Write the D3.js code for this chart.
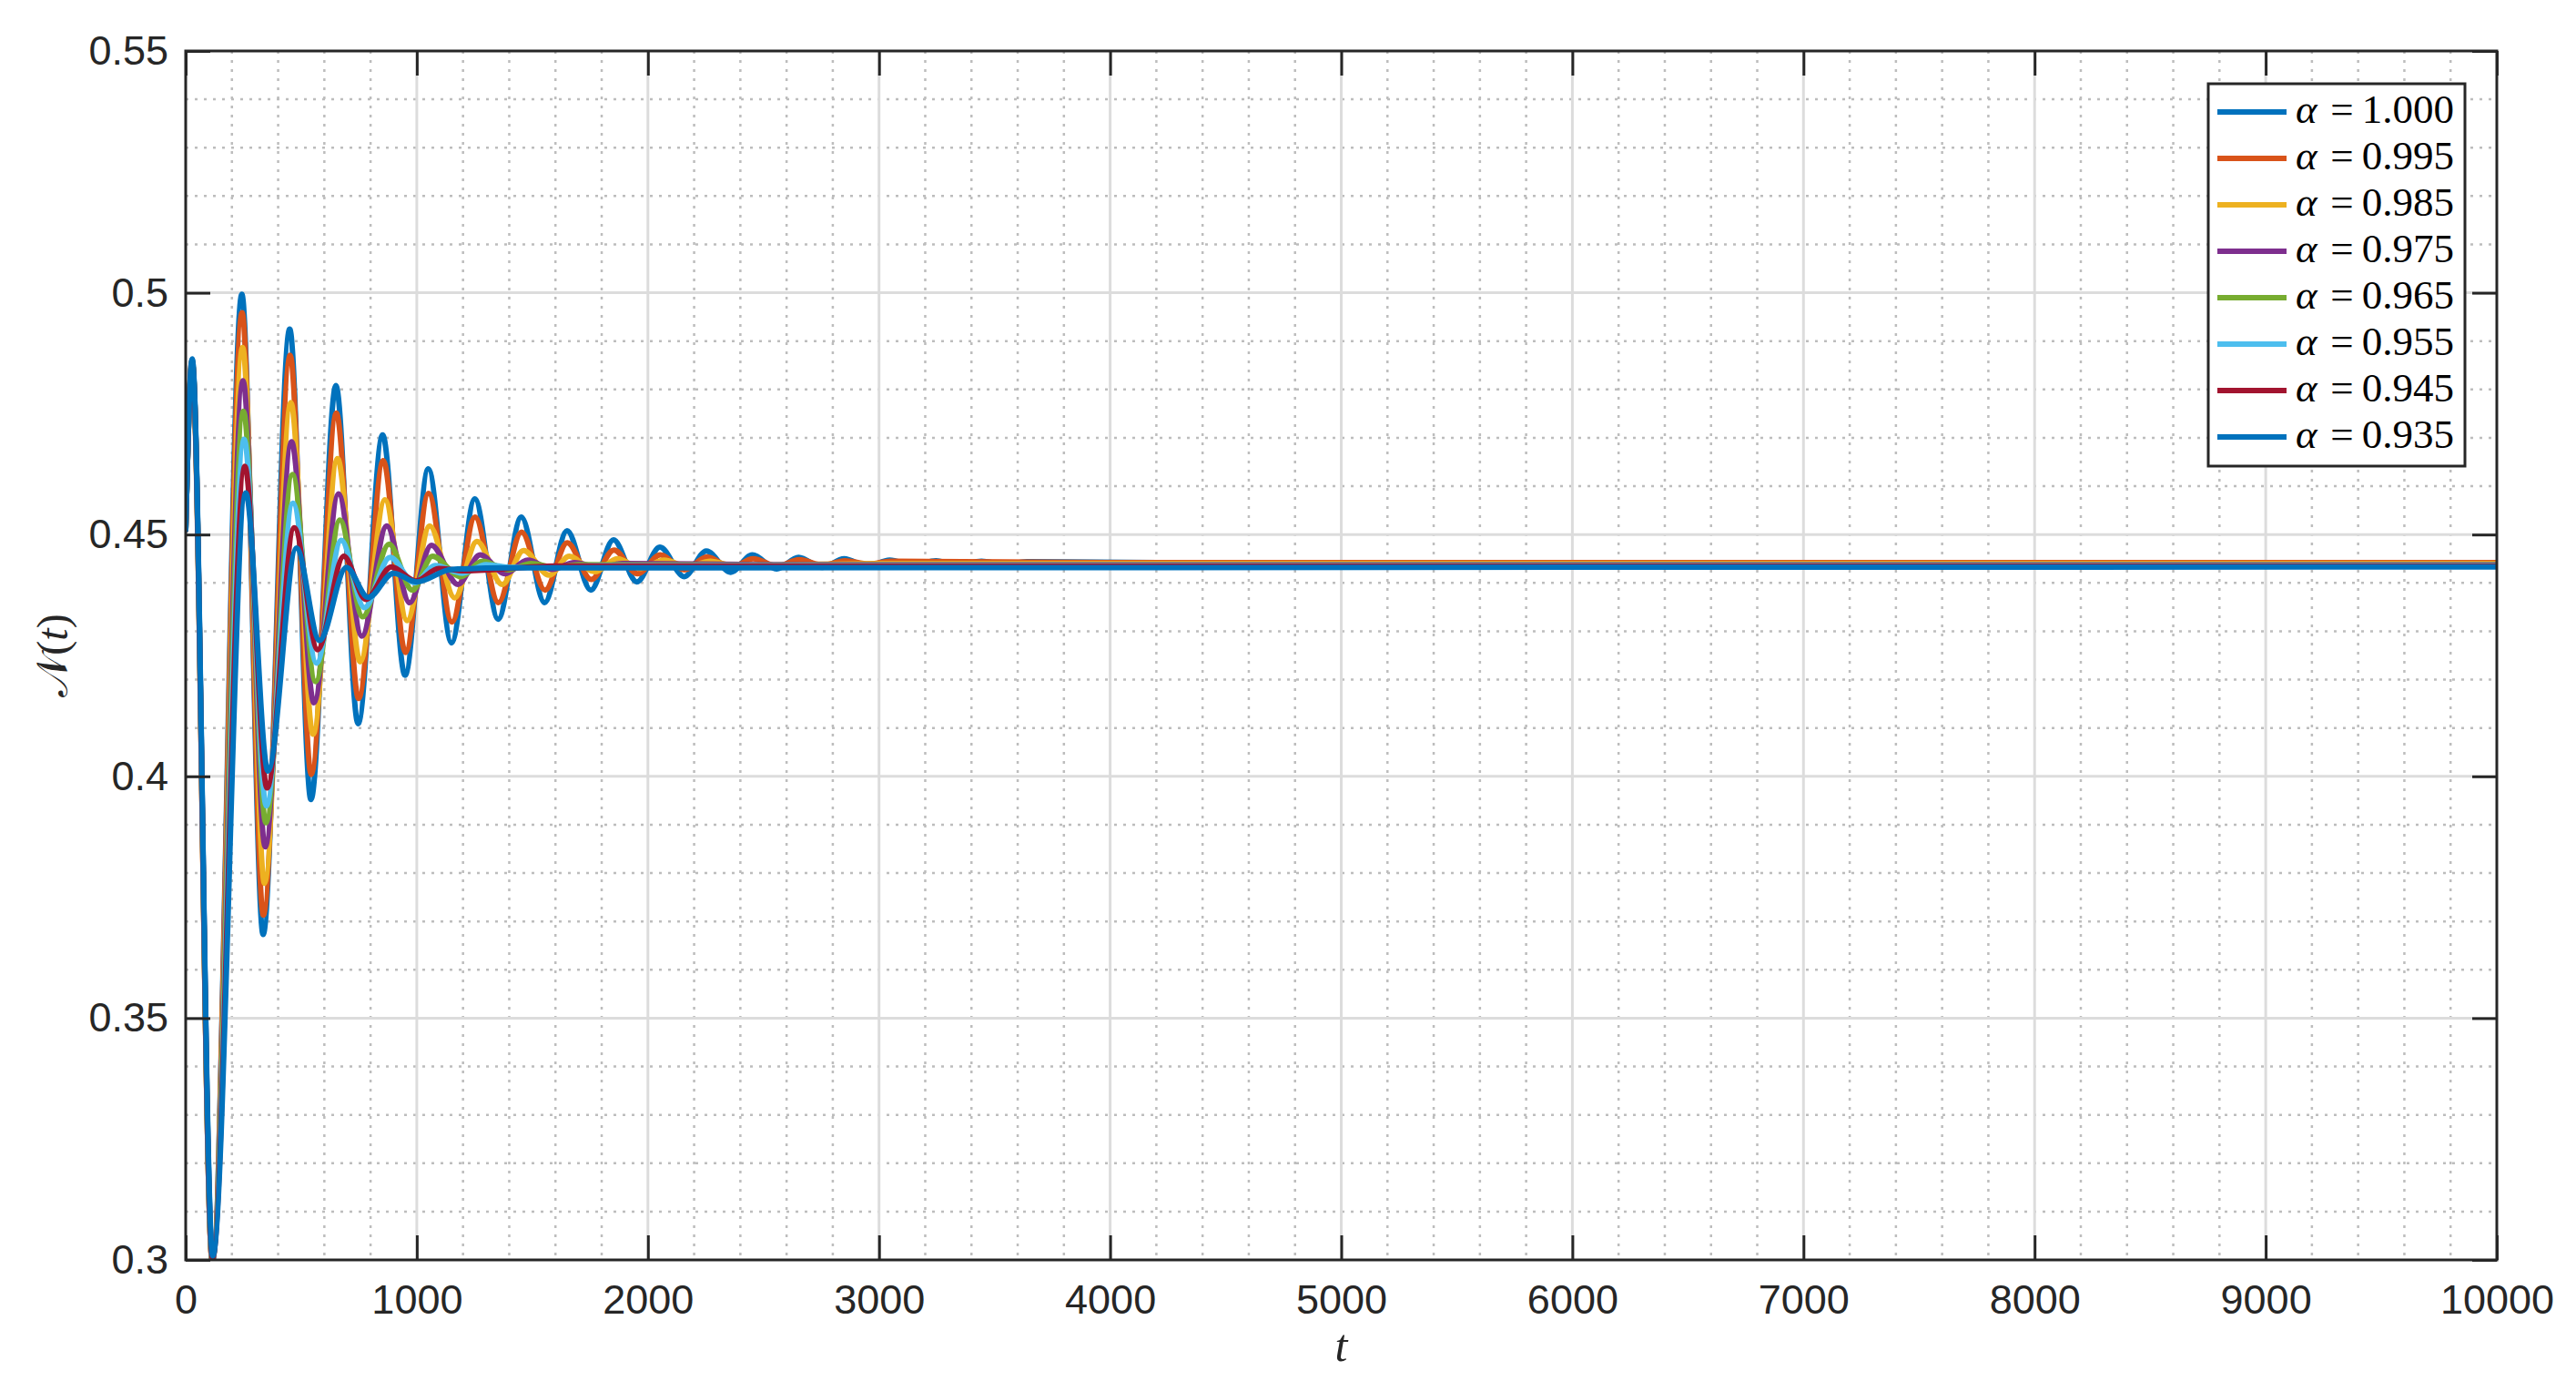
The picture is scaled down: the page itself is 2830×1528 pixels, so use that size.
<!DOCTYPE html>
<html>
<head>
<meta charset="utf-8">
<script src="https://cdn.jsdelivr.net/npm/d3@7"></script>
<style>
  html, body { margin: 0; padding: 0; background: #ffffff; }
  svg { display: block; }
</style>
</head>
<body>
<svg id="chart" width="2830" height="1528"></svg>
<script>
// ---------------- DATA ----------------
const xTickValues = [0, 1000, 2000, 3000, 4000, 5000, 6000, 7000, 8000, 9000, 10000];
const xTickLabels = ["0", "1000", "2000", "3000", "4000", "5000", "6000", "7000", "8000", "9000", "10000"];
const yTickValues = [0.3, 0.35, 0.4, 0.45, 0.5, 0.55];
const yTickLabels = ["0.3", "0.35", "0.4", "0.45", "0.5", "0.55"];
const alphaLabels = ["1.000", "0.995", "0.985", "0.975", "0.965", "0.955", "0.945", "0.935"];

// extrema of each curve: time t and value N(t)
const tA1000 = [0, 28, 116, 243, 335, 450, 542, 650, 746, 852, 949, 1050, 1150, 1251, 1352, 1452, 1553, 1650, 1753, 1851, 1952, 2052, 2157, 2253, 2358, 2452, 2557, 2652, 2754, 2849, 2950, 3046, 3148, 3246, 3345, 3443, 3542, 3640, 4500, 10000];
const nA1000 = [0.451, 0.4862, 0.3012, 0.4997, 0.3673, 0.4925, 0.3952, 0.4808, 0.4109, 0.4706, 0.4209, 0.4636, 0.4276, 0.4574, 0.4325, 0.4536, 0.4359, 0.4508, 0.4385, 0.4489, 0.4402, 0.4474, 0.4413, 0.4466, 0.4422, 0.4458, 0.4429, 0.4453, 0.4432, 0.4450, 0.4434, 0.4447, 0.4436, 0.4446, 0.4437, 0.4445, 0.4438, 0.4444, 0.4441, 0.4441];

const tA995 = [0, 27, 115, 244, 336, 452, 543, 652, 748, 855, 951, 1051, 1152, 1252, 1353, 1453, 1555, 1651, 1755, 1853, 1955, 2054, 2158, 2256, 2360, 2455, 2560, 2655, 2757, 2852, 2955, 3050, 4000, 10000];
const nA995 = [0.451, 0.4860, 0.2998, 0.4959, 0.3713, 0.4871, 0.4004, 0.4751, 0.4161, 0.4653, 0.4256, 0.4585, 0.4319, 0.4536, 0.4359, 0.4505, 0.4385, 0.4483, 0.4407, 0.4468, 0.4419, 0.4458, 0.4427, 0.4454, 0.4432, 0.4450, 0.4435, 0.4448, 0.4437, 0.4446, 0.4439, 0.4445, 0.4442, 0.4442];

const tA985 = [0, 28, 115, 246, 341, 455, 551, 657, 755, 862, 958, 1056, 1164, 1260, 1370, 1462, 1572, 1660, 1770, 1868, 1970, 2070, 2172, 2270, 2372, 3000, 10000];
const nA985 = [0.451, 0.4858, 0.2995, 0.4887, 0.3779, 0.4773, 0.4087, 0.4657, 0.4237, 0.4572, 0.4322, 0.4518, 0.4369, 0.4486, 0.4397, 0.4467, 0.4416, 0.4455, 0.4423, 0.4450, 0.4430, 0.4447, 0.4434, 0.4445, 0.4436, 0.4440, 0.4440];

const tA975 = [0, 28, 115, 248, 344, 458, 555, 661, 762, 870, 969, 1063, 1178, 1274, 1382, 1480, 1585, 1682, 1790, 1890, 2500, 10000];
const nA975 = [0.451, 0.4856, 0.2997, 0.4818, 0.3854, 0.4692, 0.4152, 0.4584, 0.4290, 0.4518, 0.4359, 0.4478, 0.4397, 0.4458, 0.4419, 0.4447, 0.4428, 0.4442, 0.4432, 0.4440, 0.4438, 0.4438];

const tA965 = [0, 28, 115, 250, 347, 462, 562, 667, 766, 880, 981, 1068, 1190, 1285, 1395, 1495, 1600, 1700, 2300, 10000];
const nA965 = [0.451, 0.4856, 0.2999, 0.4755, 0.3904, 0.4624, 0.4196, 0.4530, 0.4330, 0.4480, 0.4385, 0.4455, 0.4413, 0.4445, 0.4427, 0.4440, 0.4432, 0.4438, 0.4437, 0.4437];

const tA955 = [0, 28, 116, 253, 349, 464, 566, 673, 773, 884, 990, 1080, 1198, 1300, 1410, 1800, 10000];
const nA955 = [0.451, 0.4856, 0.3001, 0.4697, 0.3939, 0.4565, 0.4234, 0.4488, 0.4349, 0.4453, 0.4400, 0.4436, 0.4420, 0.4438, 0.4432, 0.4436, 0.4436];

const tA945 = [0, 28, 116, 256, 352, 470, 571, 684, 779, 890, 996, 1095, 1210, 1600, 10000];
const nA945 = [0.451, 0.4857, 0.3003, 0.4641, 0.3976, 0.4514, 0.4262, 0.4455, 0.4366, 0.4433, 0.4404, 0.4430, 0.4425, 0.4435, 0.4435];

const tA935 = [0, 28, 117, 260, 356, 479, 579, 695, 790, 899, 998, 1150, 1400, 10000];
const nA935 = [0.451, 0.4863, 0.3008, 0.4586, 0.4011, 0.4472, 0.4281, 0.4432, 0.4370, 0.4420, 0.4402, 0.4428, 0.4431, 0.4433];

const seriesT = [tA1000, tA995, tA985, tA975, tA965, tA955, tA945, tA935];
const seriesN = [nA1000, nA995, nA985, nA975, nA965, nA955, nA945, nA935];

// ---------------- STYLE / LAYOUT ----------------
const colors = ["#0072BD", "#D95319", "#EDB120", "#7E2F8E", "#77AC30", "#4DBEEE", "#A2142F", "#0072BD"];
const axisColor = "#262626";
const L = 204, R = 2743, T = 56, B = 1384;

const svg = d3.select("#chart");
const x = d3.scaleLinear().domain([0, 10000]).range([L, R]);
const y = d3.scaleLinear().domain([0.3, 0.55]).range([B, T]);

const xMinor = d3.range(0, 10001, 200).filter(v => v % 1000 !== 0);
const yMinor = d3.range(30, 56, 1).map(v => v / 100).filter(v => Math.round(v * 1000) % 50 !== 0);

// minor grid (dotted)
const grid = svg.append("g");
grid.selectAll("line.xmin").data(xMinor).join("line")
  .attr("x1", d => x(d)).attr("x2", d => x(d)).attr("y1", T).attr("y2", B)
  .attr("stroke", "#bdbdbd").attr("stroke-width", 2.5).attr("stroke-dasharray", "3,7");
grid.selectAll("line.ymin").data(yMinor).join("line")
  .attr("y1", d => y(d)).attr("y2", d => y(d)).attr("x1", L).attr("x2", R)
  .attr("stroke", "#bdbdbd").attr("stroke-width", 2.5).attr("stroke-dasharray", "3,7");
// major grid
grid.selectAll("line.xmaj").data(xTickValues.slice(1, -1)).join("line")
  .attr("x1", d => x(d)).attr("x2", d => x(d)).attr("y1", T).attr("y2", B)
  .attr("stroke", "#dcdcdc").attr("stroke-width", 3);
grid.selectAll("line.ymaj").data(yTickValues.slice(1, -1)).join("line")
  .attr("y1", d => y(d)).attr("y2", d => y(d)).attr("x1", L).attr("x2", R)
  .attr("stroke", "#dcdcdc").attr("stroke-width", 3);

// data lines
svg.append("clipPath").attr("id", "plotclip").append("rect")
  .attr("x", L).attr("y", T).attr("width", R - L).attr("height", B - T);
const line = d3.line().x(d => x(d[0])).y(d => y(d[1])).curve(d3.curveMonotoneX);
const lines = svg.append("g").attr("clip-path", "url(#plotclip)");
seriesT.forEach((ts, i) => {
  const pts = ts.map((t, j) => [t, seriesN[i][j]]);
  lines.append("path").attr("d", line(pts)).attr("fill", "none")
    .attr("stroke", colors[i]).attr("stroke-width", 6)
    .attr("stroke-linejoin", "round").attr("stroke-linecap", "round");
});

// axes
const fontTick = "'Liberation Sans', Arial, Helvetica, sans-serif";
function styleAxis(g) {
  g.select(".domain").remove();
  g.selectAll(".tick line").attr("stroke", axisColor).attr("stroke-width", 3);
  g.selectAll(".tick text").attr("fill", axisColor).attr("font-size", 45).attr("font-family", fontTick);
}
svg.append("g").attr("transform", `translate(0,${B})`)
  .call(d3.axisBottom(x).tickValues(xTickValues).tickFormat((d, i) => xTickLabels[i]).tickSizeInner(-27).tickSizeOuter(0).tickPadding(27))
  .call(styleAxis);
svg.append("g").attr("transform", `translate(0,${T})`)
  .call(d3.axisTop(x).tickValues(xTickValues).tickFormat("").tickSizeInner(-27).tickSizeOuter(0))
  .call(styleAxis);
svg.append("g").attr("transform", `translate(${L},0)`)
  .call(d3.axisLeft(y).tickValues(yTickValues).tickFormat((d, i) => yTickLabels[i]).tickSizeInner(-27).tickSizeOuter(0).tickPadding(19))
  .call(styleAxis);
svg.append("g").attr("transform", `translate(${R},0)`)
  .call(d3.axisRight(y).tickValues(yTickValues).tickFormat("").tickSizeInner(-27).tickSizeOuter(0))
  .call(styleAxis);
svg.append("rect").attr("x", L).attr("y", T).attr("width", R - L).attr("height", B - T)
  .attr("fill", "none").attr("stroke", axisColor).attr("stroke-width", 3);

// axis labels
const serif = "'Liberation Serif', 'DejaVu Serif', Times, serif";
svg.append("text").attr("x", (L + R) / 2).attr("y", 1495).attr("text-anchor", "middle")
  .attr("font-family", serif).attr("font-style", "italic").attr("font-size", 50).attr("fill", axisColor).text("t");
const yl = svg.append("text").attr("transform", "translate(74,720) rotate(-90)").attr("text-anchor", "middle")
  .attr("font-family", serif).attr("font-size", 48).attr("fill", axisColor);
yl.append("tspan").text("𝒩");
yl.append("tspan").text("(");
yl.append("tspan").attr("font-style", "italic").text("t");
yl.append("tspan").text(")");

// legend
const lg = svg.append("g");
lg.append("rect").attr("x", 2426).attr("y", 92).attr("width", 282).attr("height", 420)
  .attr("fill", "#ffffff").attr("stroke", axisColor).attr("stroke-width", 3);
alphaLabels.forEach((lab, i) => {
  const cy = 123 + i * 51;
  lg.append("line").attr("x1", 2436).attr("x2", 2512).attr("y1", cy).attr("y2", cy)
    .attr("stroke", colors[i]).attr("stroke-width", 6);
  lg.append("text").attr("x", 2522).attr("y", cy + 12).attr("font-family", serif).attr("font-style", "italic")
    .attr("font-size", 45).attr("fill", "#000").text("α");
  lg.append("text").attr("x", 2573).attr("y", cy + 12).attr("text-anchor", "middle").attr("font-family", serif)
    .attr("font-size", 45).attr("fill", "#000").text("=");
  lg.append("text").attr("x", 2696).attr("y", cy + 12).attr("text-anchor", "end").attr("font-family", serif)
    .attr("font-size", 45).attr("fill", "#000").text(lab);
});
</script>
</body>
</html>
